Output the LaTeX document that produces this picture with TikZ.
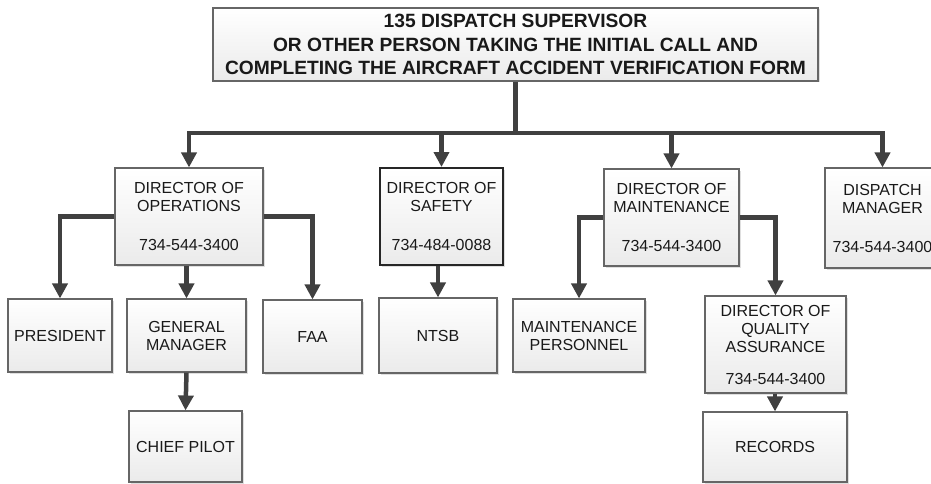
\documentclass[tikz,border=0pt]{standalone}
\usepackage{fontspec}
\setmainfont{Liberation Sans}
\usetikzlibrary{arrows.meta,shadows}
\begin{document}
\begin{tikzpicture}[x=1pt,y=-1pt,
  box/.style={draw=black!60, line width=1.1pt, top color=white, bottom color=black!8,
    drop shadow={shadow xshift=1.5pt, shadow yshift=-1.5pt, opacity=0.25},
    align=center, font=\fontsize{16}{18}\selectfont, text=black!90, inner sep=0pt},
  strongbox/.style={box, draw=black!85, line width=2pt},
  topbox/.style={box, font=\bfseries\fontsize{19.2}{23.5}\selectfont},
  conn/.style={line width=4.5pt, draw=black!75},
  arr/.style={conn, -{Triangle[length=15pt,width=15pt]}}]
\useasboundingbox (0,0) rectangle (931,484);

% boxes (center, width, height)
\node[topbox, minimum width=605pt, minimum height=73pt] (top) at (515.5,44.5)
  {135 DISPATCH SUPERVISOR\\OR OTHER PERSON TAKING THE INITIAL CALL AND\\COMPLETING THE AIRCRAFT ACCIDENT VERIFICATION FORM};

\node[box, minimum width=148pt, minimum height=97pt] (ops) at (189,216.5)
  {DIRECTOR OF\\OPERATIONS\\[21pt]734-544-3400};
\node[strongbox, minimum width=123pt, minimum height=97pt] (safety) at (441.5,216.5)
  {DIRECTOR OF\\SAFETY\\[21pt]734-484-0088};
\node[box, minimum width=135pt, minimum height=97pt] (maint) at (671.5,217.5)
  {DIRECTOR OF\\MAINTENANCE\\[21pt]734-544-3400};
\node[box, minimum width=115pt, minimum height=100pt] (disp) at (882.5,218)
  {DISPATCH\\MANAGER\\[21pt]734-544-3400};

\node[box, minimum width=104pt, minimum height=73pt] (pres) at (60,335.5) {PRESIDENT};
\node[box, minimum width=119pt, minimum height=73pt] (gm) at (186.5,335.5) {GENERAL\\MANAGER};
\node[box, minimum width=99pt, minimum height=73pt] (faa) at (312.5,336.5) {FAA};
\node[box, minimum width=118pt, minimum height=75pt] (ntsb) at (438,335.5) {NTSB};
\node[box, minimum width=113pt, minimum height=71pt] (chief) at (185.5,446.5) {CHIEF PILOT};
\node[box, minimum width=132pt, minimum height=73pt] (mp) at (579,335.5) {MAINTENANCE\\PERSONNEL};
\node[box, minimum width=141pt, minimum height=97pt] (dqa) at (775.5,344.5)
  {DIRECTOR OF\\QUALITY\\ASSURANCE\\[14pt]734-544-3400};
\node[box, minimum width=144pt, minimum height=70pt] (rec) at (775,447) {RECORDS};

% connectors
\coordinate (bar) at (515.5,133);
\draw[conn] (top.south) -- (bar);
\draw[arr] (bar) -| (ops.north);
\draw[arr] (bar) -| (disp.north);
\draw[arr] (safety.north |- bar) -- (safety.north);
\draw[arr] (maint.north |- bar) -- (maint.north);

\draw[arr] (ops.west) -| (pres.north);
\draw[arr] (ops.east) -| (faa.north);
\draw[arr] (gm.north |- ops.south) -- (gm.north);
\draw[arr] (gm.south) -- (chief.north);
\draw[arr] (ntsb.north |- safety.south) -- (ntsb.north);
\draw[arr] (maint.west) -| (mp.north);
\draw[arr] (maint.east) -| (dqa.north);
\draw[arr] (rec.north |- dqa.south) -- (rec.north);
\end{tikzpicture}
\end{document}
